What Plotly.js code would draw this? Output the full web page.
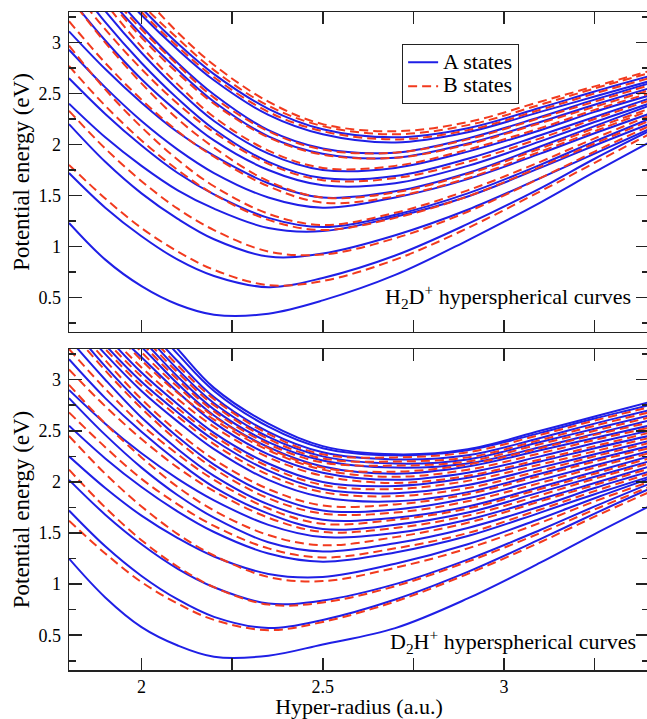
<!DOCTYPE html>
<html><head><meta charset="utf-8">
<script src="https://cdn.plot.ly/plotly-3.0.1.min.js"></script>
<style>html,body{margin:0;padding:0;background:#fff;overflow:hidden;width:647px;height:719px}</style>
</head><body><div id="chart" style="width:650px;height:719px"></div>
<script>
// Hyper-radius sample points (a.u.)
const hyperRadius = [1.8, 1.9, 2.0, 2.1, 2.2, 2.35, 2.5, 2.7, 2.9, 3.1, 3.25, 3.4];

// H2D+ A states (eV)
const h2dA = [
  [1.23, 0.87, 0.61, 0.43, 0.33, 0.34, 0.47, 0.72, 1.06, 1.43, 1.73, 2.02],
  [1.72, 1.38, 1.10, 0.87, 0.71, 0.60, 0.69, 0.91, 1.22, 1.57, 1.86, 2.13],
  [2.20, 1.83, 1.52, 1.27, 1.07, 0.90, 0.93, 1.11, 1.36, 1.67, 1.91, 2.15],
  [2.40, 2.07, 1.79, 1.55, 1.37, 1.18, 1.15, 1.29, 1.49, 1.77, 1.99, 2.20],
  [2.65, 2.30, 1.99, 1.72, 1.51, 1.28, 1.19, 1.31, 1.52, 1.80, 2.03, 2.25],
  [2.93, 2.56, 2.23, 1.95, 1.72, 1.48, 1.38, 1.48, 1.66, 1.91, 2.11, 2.30],
  [3.11, 2.74, 2.41, 2.12, 1.89, 1.62, 1.48, 1.54, 1.72, 1.98, 2.18, 2.38],
  [3.45, 3.02, 2.64, 2.32, 2.04, 1.75, 1.60, 1.62, 1.79, 2.03, 2.22, 2.40],
  [3.66, 3.20, 2.80, 2.45, 2.15, 1.83, 1.67, 1.69, 1.86, 2.09, 2.27, 2.45],
  [3.78, 3.31, 2.90, 2.54, 2.23, 1.91, 1.75, 1.77, 1.93, 2.14, 2.32, 2.48],
  [3.95, 3.48, 3.08, 2.73, 2.42, 2.08, 1.91, 1.87, 2.01, 2.22, 2.39, 2.55],
  [4.05, 3.57, 3.16, 2.80, 2.49, 2.14, 1.96, 1.92, 2.06, 2.27, 2.44, 2.60],
  [4.10, 3.66, 3.27, 2.93, 2.63, 2.29, 2.10, 2.02, 2.12, 2.32, 2.47, 2.62],
  [4.20, 3.74, 3.34, 2.99, 2.69, 2.35, 2.15, 2.07, 2.16, 2.36, 2.52, 2.67]
];

// H2D+ B states (eV)
const h2dB = [
  [1.80, 1.47, 1.18, 0.95, 0.77, 0.62, 0.66, 0.87, 1.18, 1.54, 1.82, 2.10],
  [2.33, 1.96, 1.64, 1.37, 1.16, 0.95, 0.92, 1.08, 1.34, 1.67, 1.93, 2.18],
  [2.77, 2.38, 2.04, 1.75, 1.51, 1.26, 1.16, 1.28, 1.49, 1.78, 2.01, 2.23],
  [2.97, 2.54, 2.17, 1.85, 1.59, 1.32, 1.21, 1.33, 1.55, 1.83, 2.06, 2.28],
  [3.21, 2.80, 2.44, 2.13, 1.88, 1.59, 1.43, 1.49, 1.67, 1.93, 2.13, 2.33],
  [3.45, 3.00, 2.60, 2.25, 1.97, 1.64, 1.48, 1.53, 1.71, 1.96, 2.16, 2.35],
  [3.57, 3.13, 2.74, 2.40, 2.12, 1.81, 1.65, 1.67, 1.83, 2.06, 2.25, 2.43],
  [3.87, 3.39, 2.96, 2.59, 2.27, 1.94, 1.77, 1.79, 1.95, 2.16, 2.34, 2.50],
  [3.92, 3.46, 3.05, 2.70, 2.40, 2.07, 1.90, 1.87, 2.00, 2.21, 2.37, 2.53],
  [4.00, 3.53, 3.13, 2.78, 2.46, 2.13, 1.95, 1.92, 2.05, 2.26, 2.42, 2.58],
  [4.15, 3.70, 3.30, 2.96, 2.66, 2.32, 2.13, 2.05, 2.14, 2.34, 2.50, 2.65],
  [4.25, 3.79, 3.38, 3.04, 2.73, 2.38, 2.18, 2.10, 2.19, 2.39, 2.55, 2.70],
  [4.35, 3.90, 3.48, 3.10, 2.78, 2.42, 2.20, 2.13, 2.22, 2.42, 2.57, 2.72]
];

// D2H+ A states (eV)
const d2hA = [
  [1.25, 0.87, 0.58, 0.40, 0.29, 0.30, 0.41, 0.57, 0.86, 1.21, 1.49, 1.76],
  [1.72, 1.37, 1.08, 0.85, 0.68, 0.57, 0.65, 0.85, 1.12, 1.44, 1.69, 1.93],
  [2.02, 1.68, 1.39, 1.15, 0.97, 0.81, 0.84, 1.00, 1.24, 1.53, 1.76, 1.98],
  [2.25, 1.94, 1.67, 1.45, 1.27, 1.10, 1.07, 1.20, 1.39, 1.64, 1.84, 2.03],
  [2.55, 2.23, 1.95, 1.71, 1.51, 1.30, 1.22, 1.31, 1.47, 1.70, 1.88, 2.05],
  [2.82, 2.46, 2.14, 1.87, 1.65, 1.41, 1.32, 1.40, 1.55, 1.76, 1.94, 2.10],
  [2.90, 2.57, 2.28, 2.03, 1.82, 1.58, 1.46, 1.50, 1.63, 1.83, 1.99, 2.15],
  [3.20, 2.82, 2.49, 2.20, 1.95, 1.69, 1.54, 1.58, 1.70, 1.90, 2.05, 2.20],
  [3.40, 3.00, 2.63, 2.32, 2.06, 1.78, 1.63, 1.65, 1.76, 1.95, 2.10, 2.25],
  [3.55, 3.13, 2.76, 2.44, 2.17, 1.88, 1.72, 1.73, 1.84, 2.02, 2.16, 2.30],
  [3.65, 3.25, 2.89, 2.59, 2.32, 2.02, 1.85, 1.81, 1.90, 2.08, 2.22, 2.35],
  [3.75, 3.34, 2.98, 2.68, 2.41, 2.11, 1.93, 1.89, 1.97, 2.14, 2.27, 2.40],
  [3.85, 3.44, 3.07, 2.76, 2.48, 2.18, 2.00, 1.96, 2.04, 2.20, 2.33, 2.45],
  [3.92, 3.55, 3.22, 2.88, 2.58, 2.27, 2.09, 2.02, 2.09, 2.25, 2.38, 2.50],
  [4.02, 3.64, 3.32, 2.96, 2.65, 2.34, 2.15, 2.08, 2.15, 2.31, 2.43, 2.55],
  [4.12, 3.74, 3.40, 3.03, 2.71, 2.39, 2.21, 2.14, 2.18, 2.34, 2.47, 2.60],
  [4.22, 3.83, 3.48, 3.10, 2.77, 2.44, 2.25, 2.18, 2.22, 2.39, 2.52, 2.65],
  [4.32, 3.91, 3.56, 3.18, 2.83, 2.49, 2.29, 2.22, 2.26, 2.43, 2.57, 2.70],
  [4.42, 4.00, 3.64, 3.25, 2.89, 2.54, 2.33, 2.26, 2.31, 2.48, 2.62, 2.75],
  [4.47, 4.06, 3.70, 3.30, 2.92, 2.57, 2.35, 2.27, 2.32, 2.50, 2.64, 2.78]
];

// D2H+ B states (eV)
const d2hB = [
  [1.62, 1.30, 1.02, 0.81, 0.65, 0.55, 0.63, 0.83, 1.10, 1.41, 1.66, 1.90],
  [2.12, 1.75, 1.43, 1.17, 0.97, 0.80, 0.82, 0.98, 1.22, 1.50, 1.73, 1.95],
  [2.45, 2.08, 1.76, 1.49, 1.28, 1.07, 1.03, 1.16, 1.35, 1.60, 1.81, 2.00],
  [2.68, 2.34, 2.03, 1.78, 1.57, 1.35, 1.26, 1.35, 1.50, 1.73, 1.91, 2.08],
  [2.95, 2.57, 2.24, 1.95, 1.72, 1.48, 1.38, 1.46, 1.60, 1.81, 1.97, 2.13],
  [3.10, 2.74, 2.42, 2.14, 1.91, 1.65, 1.51, 1.55, 1.67, 1.87, 2.03, 2.18],
  [3.30, 2.91, 2.56, 2.27, 2.02, 1.74, 1.59, 1.63, 1.74, 1.93, 2.08, 2.23],
  [3.50, 3.09, 2.72, 2.40, 2.13, 1.84, 1.69, 1.70, 1.81, 1.99, 2.14, 2.28],
  [3.60, 3.19, 2.81, 2.49, 2.22, 1.93, 1.77, 1.78, 1.88, 2.06, 2.20, 2.33],
  [3.70, 3.30, 2.94, 2.64, 2.37, 2.07, 1.90, 1.86, 1.94, 2.11, 2.25, 2.38],
  [3.80, 3.39, 3.03, 2.72, 2.45, 2.15, 1.97, 1.93, 2.01, 2.17, 2.30, 2.43],
  [3.88, 3.48, 3.12, 2.81, 2.54, 2.24, 2.06, 1.99, 2.06, 2.22, 2.35, 2.48],
  [3.98, 3.57, 3.19, 2.87, 2.61, 2.31, 2.12, 2.05, 2.12, 2.28, 2.41, 2.53],
  [4.08, 3.65, 3.27, 2.93, 2.64, 2.33, 2.14, 2.10, 2.17, 2.33, 2.46, 2.58],
  [4.18, 3.74, 3.36, 3.00, 2.69, 2.37, 2.19, 2.16, 2.20, 2.37, 2.50, 2.63],
  [4.28, 3.83, 3.44, 3.07, 2.75, 2.42, 2.23, 2.20, 2.24, 2.41, 2.55, 2.68],
  [4.38, 3.92, 3.52, 3.14, 2.81, 2.47, 2.27, 2.24, 2.29, 2.46, 2.60, 2.73]
];

const seriesNames = ['A states', 'B states'];
const panelLabels = ['H<sub>2</sub>D<sup>+</sup> hyperspherical curves', 'D<sub>2</sub>H<sup>+</sup> hyperspherical curves'];

const BLUE = '#1f1fe6';
const RED = '#f23a1e';
const FONT = '"Liberation Serif", "Times New Roman", serif';

const traces = [];
function addGroup(curves, xa, ya, isA, showFirst) {
  curves.forEach((yv, i) => {
    const nm = isA ? seriesNames[0] : seriesNames[1];
    traces.push({
      type: 'scatter', mode: 'lines',
      x: hyperRadius, y: yv, xaxis: xa, yaxis: ya,
      name: '<span style="font-size:22px">' + nm + '</span>',
      showlegend: showFirst && i === 0,
      line: isA ? {color: BLUE, width: 2, shape: 'spline', smoothing: 1}
                : {color: RED, width: 2, dash: '9px,5px', shape: 'spline', smoothing: 1},
      hoverinfo: 'skip'
    });
  });
}
addGroup(h2dA, 'x2', 'y2', true, true);
addGroup(h2dB, 'x2', 'y2', false, true);
addGroup(d2hA, 'x', 'y', true, false);
addGroup(d2hB, 'x', 'y', false, false);

const axCommon = {
  showline: true, mirror: 'ticks', linecolor: '#222', linewidth: 1.5,
  ticks: 'inside', tickcolor: '#222', tickwidth: 1.5,
  showgrid: false, zeroline: false,
  tickfont: {family: FONT, size: 18, color: '#000'}
};
const xCommon = Object.assign({}, axCommon, {
  range: [1.8, 3.4], tickmode: 'linear', tick0: 0, dtick: 0.5, ticklen: 12,
  minor: {dtick: 0.25, tick0: 0, ticks: 'inside', ticklen: 12, tickcolor: '#222', tickwidth: 1.5}
});
const yCommon = Object.assign({}, axCommon, {
  range: [0.16, 3.3], tickmode: 'linear', tick0: 0, dtick: 0.5, ticklen: 13,
  minor: {dtick: 0.25, tick0: 0, ticks: 'inside', ticklen: 7, tickcolor: '#222', tickwidth: 1.5},
  title: {text: 'Potential energy (eV)', font: {family: FONT, size: 23, color: '#000'}, standoff: 2},
  ticklabelstandoff: 3
});

const layout = {
  width: 650, height: 719,
  margin: {l: 69, r: 1, t: 12, b: 49},
  paper_bgcolor: '#fff', plot_bgcolor: '#fff',
  font: {family: FONT, color: '#000'},
  xaxis: Object.assign({}, xCommon, {anchor: 'y', domain: [0, 1],
    title: {text: 'Hyper-radius (a.u.)', font: {family: FONT, size: 22, color: '#000'}, standoff: 4}}),
  xaxis2: Object.assign({}, xCommon, {anchor: 'y2', domain: [0, 1], matches: 'x', showticklabels: false}),
  yaxis: Object.assign({}, yCommon, {anchor: 'x', domain: [0, 0.4878]}),
  yaxis2: Object.assign({}, yCommon, {anchor: 'x2', domain: [0.5137, 1]}),
  showlegend: true,
  legend: {
    x: 0.574, y: 0.951, xanchor: 'left', yanchor: 'top',
    bgcolor: '#fff', bordercolor: '#222', borderwidth: 1.2,
    font: {family: FONT, size: 16, color: '#000'},
    itemwidth: 30, tracegroupgap: 0
  },
  annotations: [
    {xref: 'paper', yref: 'paper', x: 0.972, y: 0.568, xanchor: 'right', yanchor: 'middle',
     text: panelLabels[0], showarrow: false, font: {family: FONT, size: 22, color: '#000'}},
    {xref: 'paper', yref: 'paper', x: 0.981, y: 0.043, xanchor: 'right', yanchor: 'middle',
     text: panelLabels[1], showarrow: false, font: {family: FONT, size: 22, color: '#000'}}
  ]
};

Plotly.newPlot('chart', traces, layout, {displayModeBar: false, staticPlot: true});
</script>
</body></html>
